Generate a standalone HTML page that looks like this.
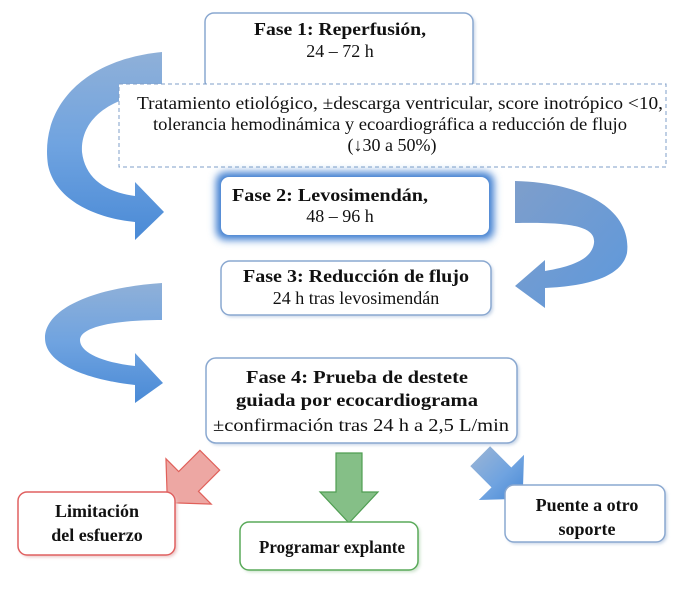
<!DOCTYPE html>
<html><head><meta charset="utf-8"><style>
html,body{margin:0;padding:0;background:#fff;}
svg{display:block}
text{font-family:"Liberation Serif",serif;font-size:18px;fill:#111;text-anchor:middle}
.b{font-weight:bold}
</style></head><body>
<svg width="685" height="596" viewBox="0 0 685 596" xmlns="http://www.w3.org/2000/svg">
<defs>
<linearGradient id="bl" x1="0" y1="0" x2="0" y2="1"><stop offset="0" stop-color="#8fb0d8"/><stop offset="0.5" stop-color="#6fa3e0"/><stop offset="1" stop-color="#4a8ad6"/></linearGradient>
<linearGradient id="bl2" x1="0" y1="0" x2="1" y2="1"><stop offset="0" stop-color="#7e9ecb"/><stop offset="1" stop-color="#5d98dc"/></linearGradient>
<filter id="glow" x="-20%" y="-30%" width="140%" height="160%"><feGaussianBlur stdDeviation="4"/></filter>
<filter id="sh" x="-10%" y="-10%" width="120%" height="130%"><feGaussianBlur stdDeviation="1.5"/></filter>
</defs>
<path d="M162,52 C 80,60 40,110 48,165 C 55,200 95,218 135,222 L135,240 L164,212 L135,182 L135,196 C 105,192 85,178 82,152 C 80,120 110,95 162,92 Z" fill="url(#bl)"/>
<path d="M515,181 C 590,183 632,213 627,253 C 622,276 590,286 545,288 L545,308 L515,286 L545,260 L545,271 C 575,266 592,258 594,243 C 596,226 570,222 515,223 Z" fill="url(#bl2)"/>
<path d="M162,283 C 90,288 45,310 45,338 C 45,365 90,380 135,385 L135,403 L163,383 L135,353 L135,366 C 100,362 80,352 80,340 C 80,328 110,320 162,320 Z" fill="url(#bl)"/>
<rect x="207" y="15" width="268" height="77" rx="9" fill="#c5d3e6" filter="url(#sh)"/>
<rect x="205" y="13" width="268" height="77" rx="9" fill="#fff" stroke="#8aa8d0" stroke-width="1.5"/>
<text class="b" x="340" y="35" font-size="19" textLength="172" lengthAdjust="spacingAndGlyphs">Fase 1: Reperfusión,</text>
<text x="340" y="57" font-size="19">24 – 72 h</text>
<rect x="119" y="84" width="547" height="83" fill="#fff" stroke="#7f9fc8" stroke-width="1" stroke-dasharray="4,3"/>
<text x="400" y="109" textLength="526" lengthAdjust="spacingAndGlyphs">Tratamiento etiológico, ±descarga ventricular, score inotrópico &lt;10,</text>
<text x="390" y="130" textLength="474" lengthAdjust="spacingAndGlyphs">tolerancia hemodinámica y ecoardiográfica a reducción de flujo</text>
<text x="392" y="151">(↓30 a 50%)</text>
<rect x="216" y="172" width="278" height="68" rx="10" fill="#3f7fd0" filter="url(#glow)"/>
<rect x="221" y="177" width="268" height="58" rx="8" fill="#fff"/>
<text class="b" x="330" y="201" font-size="19" textLength="196" lengthAdjust="spacingAndGlyphs">Fase 2: Levosimendán,</text>
<text x="340" y="222" font-size="19">48 – 96 h</text>
<rect x="223" y="263" width="270" height="54" rx="9" fill="#c5d3e6" filter="url(#sh)"/>
<rect x="221" y="261" width="270" height="54" rx="9" fill="#fff" stroke="#8aa8d0" stroke-width="1.5"/>
<text class="b" x="356" y="282" font-size="19" textLength="226" lengthAdjust="spacingAndGlyphs">Fase 3: Reducción de flujo</text>
<text x="356" y="304">24 h tras levosimendán</text>
<rect x="208" y="360" width="311" height="85" rx="10" fill="#c5d3e6" filter="url(#sh)"/>
<rect x="206" y="358" width="311" height="85" rx="10" fill="#fff" stroke="#8aa8d0" stroke-width="1.5"/>
<text class="b" x="357" y="383" font-size="19" textLength="222" lengthAdjust="spacingAndGlyphs">Fase 4: Prueba de destete</text>
<text class="b" x="357" y="406" font-size="19" textLength="242" lengthAdjust="spacingAndGlyphs">guiada por ecocardiograma</text>
<text x="361" y="431" textLength="296" lengthAdjust="spacingAndGlyphs">±confirmación tras 24 h a 2,5 L/min</text>
<g transform="translate(190,480) rotate(45)">
<polygon points="-14,-28 14,-28 14,2 32,2 0,32 -32,2 -14,2" fill="#eda7a3" stroke="#e0605a" stroke-width="1.2"/>
</g>
<polygon points="336,453 362,453 362,492 378,492 349,523 320,492 336,492" fill="#85bf87" stroke="#4f9e52" stroke-width="1.2"/>
<g transform="translate(500,476) rotate(-45)">
<polygon points="-14,-28 14,-28 14,2 32,2 0,32 -32,2 -14,2" fill="url(#bl)"/>
</g>
<rect x="20" y="494" width="157" height="63" rx="9" fill="#e8c4c4" filter="url(#sh)"/>
<rect x="18" y="492" width="157" height="63" rx="9" fill="#fff" stroke="#e06060" stroke-width="1.5"/>
<text class="b" x="97" y="517">Limitación</text>
<text class="b" x="97" y="541">del esfuerzo</text>
<rect x="242" y="524" width="178" height="48" rx="9" fill="#c8e0c8" filter="url(#sh)"/>
<rect x="240" y="522" width="178" height="48" rx="9" fill="#fff" stroke="#5aaa5a" stroke-width="1.5"/>
<text class="b" x="332" y="553" textLength="146" lengthAdjust="spacingAndGlyphs">Programar explante</text>
<rect x="507" y="487" width="160" height="57" rx="9" fill="#c5d3e6" filter="url(#sh)"/>
<rect x="505" y="485" width="160" height="57" rx="9" fill="#fff" stroke="#8aa8d0" stroke-width="1.5"/>
<text class="b" x="587" y="511">Puente a otro</text>
<text class="b" x="587" y="535">soporte</text>
</svg>
</body></html>
